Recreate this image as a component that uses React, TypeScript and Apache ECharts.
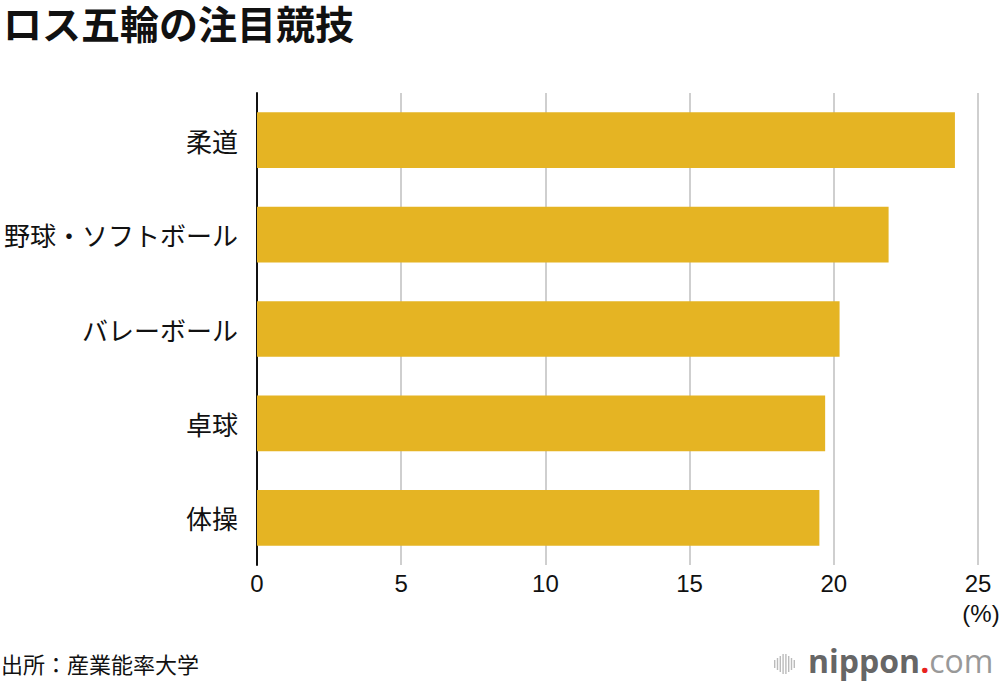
import React, { useEffect, useRef } from "react";
import * as echarts from "echarts";

const categories = ["柔道", "野球・ソフトボール", "バレーボール", "卓球", "体操"];
const values = [24.2, 21.9, 20.2, 19.7, 19.5];
const xTicks = [0, 5, 10, 15, 20, 25];

const title = "ロス五輪の注目競技";
const source = "出所：産業能率大学";
const unit = "(%)";

const JP = '"Noto Sans CJK JP", "Noto Sans", sans-serif';
const NUM = '"Liberation Sans Narrow", "Liberation Sans", sans-serif';

export default function App() {
  const ref = useRef<HTMLDivElement>(null);
  useEffect(() => {
    if (!ref.current) return;
    const chart = echarts.init(ref.current, null, { renderer: "svg" });
    const iconHeights = [8, 12, 16, 20, 20, 16, 12, 8];
    const iconEls = iconHeights.map((h, i) => ({
      type: "rect",
      shape: { x: 774 + i * 2.8, y: 664 - h / 2, width: 1.4, height: h },
      style: { fill: "#bbb" },
    }));
    chart.setOption({
      animation: false,
      backgroundColor: "#fff",
      grid: { left: 257, right: 22, top: 93, bottom: 125, containLabel: false },
      xAxis: {
        type: "value",
        min: xTicks[0],
        max: xTicks[xTicks.length - 1],
        interval: 5,
        axisLine: { show: false },
        axisTick: { show: false },
        splitLine: { show: true, lineStyle: { color: "#cfcfcf", width: 2 } },
        axisLabel: { fontFamily: NUM, fontSize: 24, color: "#111", margin: 6 },
      },
      yAxis: {
        type: "category",
        data: categories,
        inverse: true,
        axisLine: { show: true, lineStyle: { color: "#111", width: 2 } },
        axisTick: { show: false },
        axisLabel: { fontFamily: JP, fontSize: 26, color: "#111", margin: 19 },
      },
      series: [
        {
          type: "bar",
          data: values,
          barCategoryGap: "41%",
          itemStyle: { color: "#E5B423" },
          z: 3,
        },
      ],
      graphic: [
        {
          type: "text",
          left: 3,
          top: 2,
          style: { text: title, font: `bold 39px ${JP}`, fill: "#111" },
        },
        {
          type: "text",
          left: 1,
          top: 652,
          style: { text: source, font: `22px ${JP}`, fill: "#111" },
        },
        {
          type: "text",
          x: 981,
          y: 601,
          style: { text: unit, font: `24px ${NUM}`, fill: "#111", align: "center" },
        },
        ...iconEls,
        {
          type: "text",
          x: 808,
          y: 644,
          style: {
            text: "{a|nippon}{b|.}{c|com}",
            rich: {
              a: { font: `bold 32px "Open Sans", sans-serif`, fill: "#666" },
              b: { font: `bold 32px "Open Sans", sans-serif`, fill: "#e8231f" },
              c: { font: `32px "Open Sans", sans-serif`, fill: "#999" },
            },
          },
        },
      ],
    });
    return () => chart.dispose();
  }, []);
  return <div ref={ref} style={{ width: 1000, height: 690, position: "absolute", left: 0, top: 0 }} />;
}
